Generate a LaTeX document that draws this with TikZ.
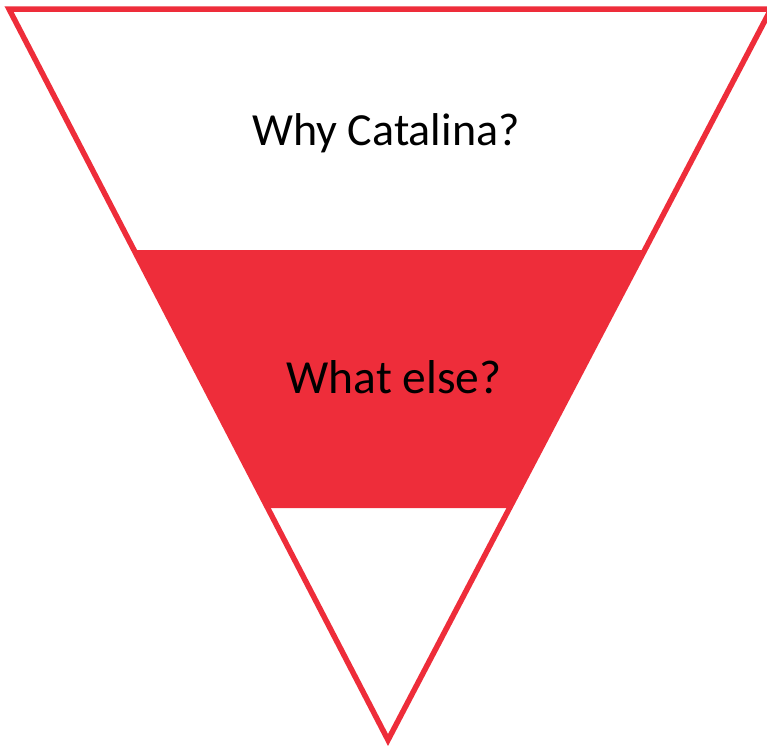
\documentclass[tikz,border=0pt]{standalone}
\usepackage{fontspec}
\setmainfont{Carlito}
\definecolor{funnelred}{RGB}{238,45,58}
\tikzset{
  funnel/.style={draw=funnelred, line width=5.5pt, line join=miter},
  band/.style={fill=funnelred},
  label/.style={anchor=base, inner sep=0pt, text=black},
}
\begin{document}
\begin{tikzpicture}[x=1pt, y=-1pt]
  \useasboundingbox (0,0) rectangle (767,747);
  \clip (0,0) rectangle (767,747);
  % corners of the inverted triangle (stroke centre line)
  \coordinate (tl) at (9,9);
  \coordinate (tr) at (771,9);
  \coordinate (apex) at (388,740);
  % shaded middle band
  \fill[band] (133,250) -- (646,250) -- (512,508) -- (266,508) -- cycle;
  % outline
  \draw[funnel] (tl) -- (tr) -- (apex) -- cycle;
  % labels
  \node[label, font=\fontsize{46}{50}\selectfont] (why) at (386,145) {Why Catalina?};
  \node[label, font=\fontsize{47.5}{52}\selectfont] (else) at (394,393) {What else?};
\end{tikzpicture}
\end{document}
